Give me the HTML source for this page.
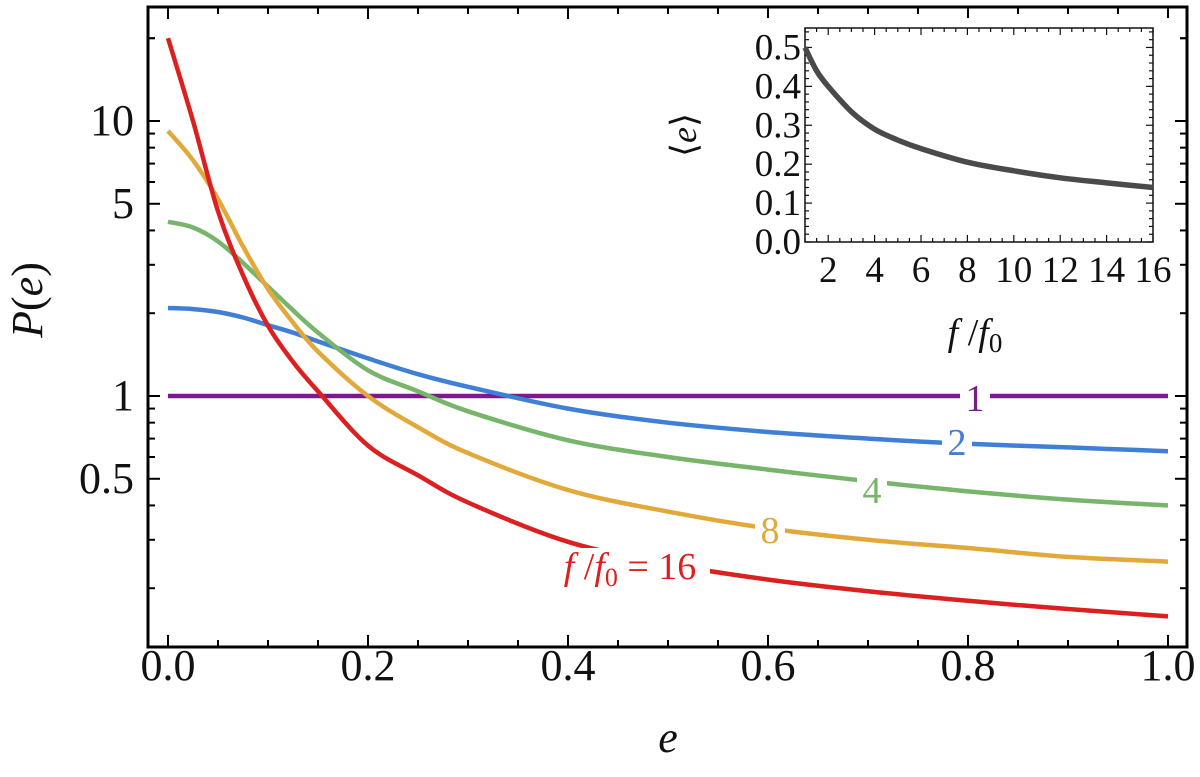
<!DOCTYPE html>
<html><head><meta charset="utf-8"><style>
html,body{margin:0;padding:0;background:#fff}
svg text{font-family:"Liberation Serif",serif;fill:#111}
</style></head><body>
<svg id="c" width="1200" height="772" viewBox="0 0 1200 772" xmlns="http://www.w3.org/2000/svg"></svg>
<script>
const eVals=[0,0.025,0.05,0.075,0.1,0.125,0.15,0.2,0.25,0.3,0.4,0.5,0.6,0.7,0.8,0.9,1.0];
const p1=[1,1,1,1,1,1,1,1,1,1,1,1,1,1,1,1,1];
const p2=[2.09,2.07,2.02,1.93,1.81,1.7,1.58,1.37,1.2,1.08,0.9,0.8,0.74,0.7,0.67,0.65,0.63];
const p4=[4.3,4.1,3.65,3.05,2.5,2.05,1.7,1.24,1.04,0.88,0.69,0.6,0.54,0.49,0.45,0.42,0.40];
const p8=[9.2,7.2,5.2,3.5,2.45,1.85,1.45,1.0,0.77,0.62,0.455,0.38,0.33,0.3,0.28,0.26,0.25];
const p16=[20,10,4.7,2.75,1.8,1.33,1.04,0.66,0.515,0.41,0.295,0.245,0.215,0.195,0.18,0.168,0.158];
const seriesNames=["1","2","4","8","16"];
const insetX=[1,1.5,2,3,4,5,6,8,10,12,14,16];
const insetY=[0.5,0.44,0.4,0.335,0.29,0.262,0.24,0.205,0.183,0.165,0.152,0.14];
const xTicks=["0.0","0.2","0.4","0.6","0.8","1.0"];
const yTicks=["0.5","1","5","10"];
const insetXTicks=["2","4","6","8","10","12","14","16"];
const insetYTicks=["0.0","0.1","0.2","0.3","0.4","0.5"];

const NS="http://www.w3.org/2000/svg";
const svg=document.getElementById('c');
function mk(t,a,p){const el=document.createElementNS(NS,t);for(const k in a)el.setAttribute(k,a[k]);(p||svg).appendChild(el);return el;}
function smooth(pts){let d='M'+pts[0][0].toFixed(1)+','+pts[0][1].toFixed(1);
 for(let i=0;i<pts.length-1;i++){const p0=pts[Math.max(0,i-1)],p1=pts[i],p2=pts[i+1],p3=pts[Math.min(pts.length-1,i+2)];
  const c1=[p1[0]+(p2[0]-p0[0])/6,p1[1]+(p2[1]-p0[1])/6],c2=[p2[0]-(p3[0]-p1[0])/6,p2[1]-(p3[1]-p1[1])/6];
  d+='C'+c1.map(v=>v.toFixed(1)).join(',')+' '+c2.map(v=>v.toFixed(1)).join(',')+' '+p2[0].toFixed(1)+','+p2[1].toFixed(1);}
 return d;}
const L=148,R=1187,T=7,B=647;
const X=e=>168+1000*e;
const Y=v=>396-275*Math.log10(v);
let f=mk('rect',{x:L,y:T,width:R-L,height:B-T,fill:'none',stroke:'#000','stroke-width':3});

for(let i=0;i<=20;i++){const e=i*0.05;const len=i%4==0?12:7;
 mk('line',{x1:X(e),x2:X(e),y1:B,y2:B-len,stroke:'#000','stroke-width':2});
 mk('line',{x1:X(e),x2:X(e),y1:T,y2:T+len,stroke:'#000','stroke-width':2});}
xTicks.forEach(s=>{const t=mk('text',{x:X(parseFloat(s)),y:680,'font-size':44,'text-anchor':'middle'});t.textContent=s;
 });
const yt=[];for(let d=-1;d<=1;d++)for(let m=1;m<=9;m++)yt.push(m*Math.pow(10,d));yt.push(20);
yt.forEach(v=>{const y=Y(v);if(y<T||y>B)return;const maj=[0.5,1,5,10].some(q=>Math.abs(q-v)<1e-9);const len=maj?12:7;
 mk('line',{x1:L,x2:L+len,y1:y,y2:y,stroke:'#000','stroke-width':2});
 mk('line',{x1:R,x2:R-len,y1:y,y2:y,stroke:'#000','stroke-width':2});});
yTicks.forEach(s=>{const t=mk('text',{x:134,y:Y(parseFloat(s))+14,'font-size':44,'text-anchor':'end'});t.textContent=s;
 });
let xl=mk('text',{x:668,y:752,'font-size':44,'font-style':'italic','text-anchor':'middle'});xl.textContent='e';

let yl=mk('text',{x:0,y:0,'font-size':44,'text-anchor':'middle',transform:'translate(42,300) rotate(-90)'});
yl.innerHTML='<tspan font-style="italic">P</tspan>(<tspan font-style="italic">e</tspan>)';

const colors=['#7b1a8c','#3f7fd6','#76b56a','#e2a93a','#dc1f1f'];
[p1,p2,p4,p8,p16].forEach((arr,i)=>{
 const pts=eVals.map((e,j)=>[X(e),Y(arr[j])]);
 const p=mk('path',{d:smooth(pts),fill:'none',stroke:colors[i],'stroke-width':4.5,'stroke-linejoin':'round'});
 
});
function lab(txt,x,y,c,w,name,html){mk('rect',{x:x-w/2,y:y-18,width:w,height:36,fill:'#fff'});
 const t=mk('text',{x:x,y:y+13,'font-size':38,'text-anchor':'middle',fill:c});if(html)t.innerHTML=html;else t.textContent=txt;t.style.fill=c;
 }
lab('1',975,398,colors[0],30,'label-f1');
lab('2',957,442,colors[1],30,'label-f2');
lab('4',872,490,colors[2],30,'label-f4');
lab('8',770,530,colors[3],30,'label-f8');
lab('',630,566,colors[4],160,'label-f16','<tspan font-style="italic">f</tspan> /<tspan font-style="italic">f</tspan><tspan font-size="26" dy="7">0</tspan><tspan dy="-7"> = 16</tspan>');
const iL=805,iR=1153,iT=28,iB=242;
const IX=v=>iL+(v-1)*(iR-iL)/15, IY=v=>iB-v*(iB-iT)/0.55;
mk('rect',{x:iL-50,y:iT-10,width:iR-iL+70,height:iB-iT+60,fill:'#fff'});
let fr=mk('rect',{x:iL,y:iT,width:iR-iL,height:iB-iT,fill:'none',stroke:'#111','stroke-width':1.5});

for(let v=1;v<=16;v+=0.5){const len=(v%2==0)?7:4;
 mk('line',{x1:IX(v),x2:IX(v),y1:iB,y2:iB-len,stroke:'#111','stroke-width':1.2});
 mk('line',{x1:IX(v),x2:IX(v),y1:iT,y2:iT+len,stroke:'#111','stroke-width':1.2});}
for(let k=0;k<=27;k++){const v=k*0.02;const y=IY(v);if(y<iT)continue;const len=(k%5==0)?7:4;
 mk('line',{x1:iL,x2:iL+len,y1:y,y2:y,stroke:'#111','stroke-width':1.2});
 mk('line',{x1:iR,x2:iR-len,y1:y,y2:y,stroke:'#111','stroke-width':1.2});}
insetXTicks.forEach(s=>{const t=mk('text',{x:IX(+s),y:282,'font-size':37,'text-anchor':'middle'});t.textContent=s;
 });
insetYTicks.forEach(s=>{const t=mk('text',{x:801,y:IY(+s)+12,'font-size':37,'text-anchor':'end'});t.textContent=s;
 });
const ipts=insetX.map((v,j)=>[IX(v),IY(insetY[j])]);
let ic=mk('path',{d:smooth(ipts),fill:'none',stroke:'#4a4a4a','stroke-width':5.5});

let ixl=mk('text',{x:975,y:345,'font-size':38,'text-anchor':'middle'});
ixl.innerHTML='<tspan font-style="italic">f</tspan> /<tspan font-style="italic">f</tspan><tspan font-size="27" dy="7">0</tspan>';

let iyl=mk('text',{x:0,y:0,'font-size':36,'text-anchor':'middle',transform:'translate(696,135) rotate(-90)'});
iyl.innerHTML='⟨<tspan font-style="italic">e</tspan>⟩';

</script>
</body></html>
